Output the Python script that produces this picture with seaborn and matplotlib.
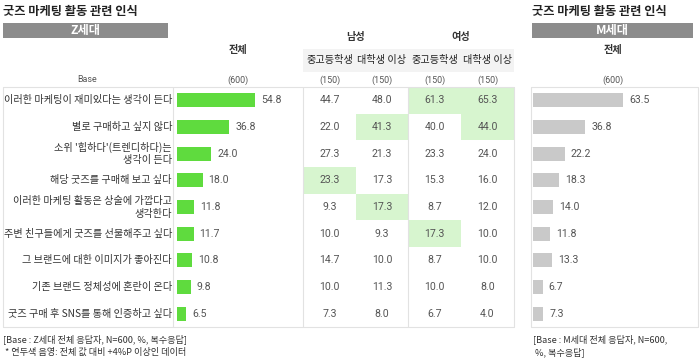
import numpy as np
import pandas as pd
import matplotlib
matplotlib.use('Agg')
import matplotlib.pyplot as plt
from matplotlib.patches import Rectangle
import seaborn as sns

sns.set_theme(style='white')
plt.rcParams['font.family'] = ['Noto Sans CJK KR', 'DejaVu Sans']
NUMFONT = 'Roboto'

# data
items = ['이러한 마케팅이 재미있다는 생각이 든다', '별로 구매하고 싶지 않다',
         "소위 '힙하다'(트렌디하다)는\n생각이 든다", '해당 굿즈를 구매해 보고 싶다',
         '이러한 마케팅 활동은 상술에 가깝다고\n생각한다', '주변 친구들에게 굿즈를 선물해주고 싶다',
         '그 브랜드에 대한 이미지가 좋아진다', '기존 브랜드 정체성에 혼란이 온다',
         '굿즈 구매 후 SNS를 통해 인증하고 싶다']
z_total = [54.8, 36.8, 24.0, 18.0, 11.8, 11.7, 10.8, 9.8, 6.5]
m_total = [63.5, 36.8, 22.2, 18.3, 14.0, 11.8, 13.3, 6.7, 7.3]
male_mid = [44.7, 22.0, 27.3, 23.3, 9.3, 10.0, 14.7, 10.0, 7.3]
male_uni = [48.0, 41.3, 21.3, 17.3, 17.3, 9.3, 10.0, 11.3, 8.0]
female_mid = [61.3, 40.0, 23.3, 15.3, 8.7, 17.3, 8.7, 10.0, 6.7]
female_uni = [65.3, 44.0, 24.0, 16.0, 12.0, 10.0, 10.0, 8.0, 4.0]
sub_cols = ['중고등학생', '대학생 이상', '중고등학생', '대학생 이상']
groups = ['남성', '여성']
bases = ['(150)', '(150)', '(150)', '(150)']
# highlighted cells: (row, col)
highlight = [(0, 2), (0, 3), (1, 1), (1, 3), (3, 0), (4, 1), (5, 2)]

GREEN = '#5fdb3e'
GRAYBAR = '#c9c9c9'
HL = '#d7f5cf'
LINE = '#e2e2e2'
TXT = '#333333'
VAL = '#555555'
FS = 7.3    # korean labels
NFS = 7.6   # numbers
BFS = 6.4   # base row

W, H = 700, 360
fig = plt.figure(figsize=(7, 3.6), dpi=100)
bg = fig.add_axes([0, 0, 1, 1])
bg.set_xlim(0, W)
bg.set_ylim(H, 0)
bg.axis('off')

top, bot = 87, 327
nrow = len(items)
rh = (bot - top) / nrow
col_x = [303, 356, 408, 461, 514]

# titles and header bars
for x0, x1, name in [(3, 168, 'Z세대'), (532, 693, 'M세대')]:
    bg.text(x0, 11, '굿즈 마케팅 활동 관련 인식', fontsize=8.8, fontweight='bold',
            color='#222222', va='center', ha='left')
    bg.add_patch(Rectangle((x0, 23), x1 - x0, 15, color='#8c8c8c', lw=0))
    bg.text((x0 + x1) / 2, 30.5, name, fontsize=8.8, fontweight='bold',
            color='white', ha='center', va='center')

for cx in [238, 613]:
    bg.text(cx, 50, '전체', fontsize=FS, fontweight='bold', color=TXT, ha='center', va='center')
    bg.text(cx, 80, '(600)', fontsize=BFS, color=VAL, ha='center', va='center', family=NUMFONT)
bg.text(87, 80, 'Base', fontsize=BFS, color=VAL, ha='center', va='center', family=NUMFONT)

bg.add_patch(Rectangle((303, 49), 211, 23, color='#f3f3f3', lw=0))
for g, name in enumerate(groups):
    bg.text((col_x[2 * g] + col_x[2 * g + 2]) / 2, 37, name, fontsize=FS,
            fontweight='bold', color=TXT, ha='center', va='center')
for j, name in enumerate(sub_cols):
    cx = (col_x[j] + col_x[j + 1]) / 2
    bg.text(cx, 60, name, fontsize=FS, color='#222222', ha='center', va='center')
    bg.text(cx, 80, bases[j], fontsize=BFS, color=VAL, ha='center', va='center', family=NUMFONT)

# table cells
cols = [male_mid, male_uni, female_mid, female_uni]
for r, c in highlight:
    bg.add_patch(Rectangle((col_x[c], top + r * rh), col_x[c + 1] - col_x[c], rh,
                           color=HL, lw=0))
for j, vals in enumerate(cols):
    cx = (col_x[j] + col_x[j + 1]) / 2
    for i, v in enumerate(vals):
        bg.text(cx, top + (i + 0.5) * rh, f'{v:.1f}', fontsize=NFS, color=VAL,
                ha='center', va='center', family=NUMFONT)

# row labels, one text per line
for i, lab in enumerate(items):
    lines = lab.split('\n')
    n = len(lines)
    for k, ln in enumerate(lines):
        y = top + (i + 0.5) * rh + (k - (n - 1) / 2) * 13
        bg.text(172, y, ln, fontsize=FS, color=TXT, ha='right', va='center')

# grid lines
lk = dict(color=LINE, lw=0.8)
bg.plot([3, 514], [top, top], **lk)
bg.plot([3, 514], [bot, bot], **lk)
for x in [3, 173, 303, 408, 514]:
    bg.plot([x, x], [top, bot], **lk)
bg.plot([531, 698, 698, 531, 531], [top, top, bot, bot, top], **lk)

# bar axes
scale = 1.42
def bar_axes(x0, x1, vals, color):
    ax = fig.add_axes([x0 / W, 1 - bot / H, (x1 - x0) / W, (bot - top) / H])
    df = pd.DataFrame({'item': [str(k) for k in range(nrow)], 'value': vals})
    sns.barplot(data=df, x='value', y='item', color=color, width=0.53,
                saturation=1, ax=ax, edgecolor='none')
    ax.set_xlim(0, (x1 - x0) / scale)
    ax.set_ylim(nrow - 0.5, -0.5)
    for i, v in enumerate(vals):
        ax.text(v + 4.2, i, f'{v:.1f}', fontsize=NFS, color=VAL, va='center',
                ha='left', family=NUMFONT)
    ax.axis('off')
    ax.patch.set_alpha(0)
    return ax

bar_axes(177, 303, z_total, GREEN)
bar_axes(533, 697, m_total, GRAYBAR)

# footnotes
FFS = 6.6
bg.text(3, 339, '[Base : Z세대 전체 응답자, N=600, %, 복수응답]', fontsize=FFS, color=TXT, va='center')
bg.text(5, 352, '* 연두색 음영: 전체 값 대비 +4%P 이상인 데이터', fontsize=FFS, color=TXT, va='center')
bg.text(533, 339, '[Base : M세대 전체 응답자, N=600,', fontsize=FFS, color=TXT, va='center')
bg.text(535, 352, '%, 복수응답]', fontsize=FFS, color=TXT, va='center')

fig.savefig('out.png', dpi=100)
